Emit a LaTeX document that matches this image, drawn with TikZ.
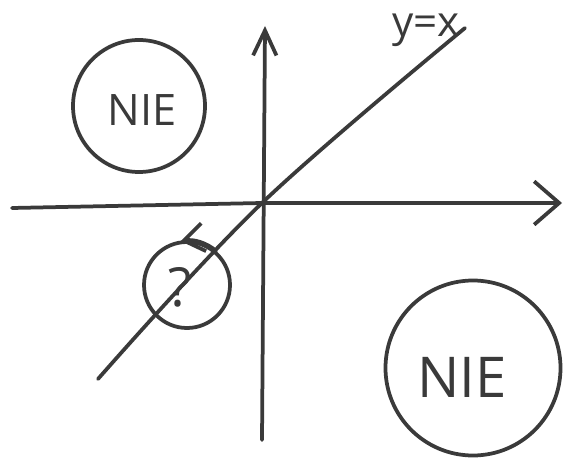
\documentclass[tikz,border=0pt]{standalone}
\usepackage{fontspec}
\setmainfont{Open Sans}
\usetikzlibrary{arrows.meta}

\definecolor{ink}{HTML}{3A3A3A}
\tikzset{
  pen/.style={line width=3.2pt, draw=ink, line cap=round, line join=round},
  region/.style={pen, circle, inner sep=0pt},
  word/.style={text=ink, inner sep=0pt},
}

\begin{document}
\begin{tikzpicture}[x=0.03cm, y=-0.03cm]
    \useasboundingbox (0,0) rectangle (567,459);

    % Axes
    \coordinate (o) at (262,203);
    \coordinate (xl) at (12,208);
    \coordinate (xr) at (562,203);
    \coordinate (yb) at (262,440);
    \coordinate (yt) at (265,26);
    \draw[pen, -{Straight Barb[length=0.75cm, width=1.3cm, line width=3.2pt]}] (xl) -- (o) -- (xr);
    \draw[pen, -{Straight Barb[length=0.75cm, width=0.7cm, line width=3.2pt]}] (yb) -- (yt);

    % Line y=x
    \coordinate (dl) at (98,379);
    \coordinate (dr) at (465,28);
    \draw[pen] plot[smooth, tension=0.6] coordinates {(dl) (o) (dr)};
    \node[word, font=\fontsize{36}{38}\selectfont] (lab) at (426,30) {y=x};

    % Regions
    \node[region, minimum size=132*0.03cm] (nieA) at (139,106) {};
    \node[word, font=\fontsize{37}{40}\selectfont] (nieAt) at (142,110) {NIE};
    \node[region, minimum size=175*0.03cm] (nieB) at (473,368) {};
    \node[word, font=\fontsize{48}{50}\selectfont] (nieBt) at (462,377) {NIE};
    \node[region, minimum size=86*0.03cm] (ques) at (187,285) {};
    \node[word, font=\fontsize{46}{48}\selectfont] (quest) at (180,287) {?};

    % Orientation of the small circle
    \draw[pen, -{Straight Barb[length=0.6cm, width=0.85cm, line width=3.2pt]}]
        (ques.50) arc (50:100:1.29cm);
\end{tikzpicture}
\end{document}
